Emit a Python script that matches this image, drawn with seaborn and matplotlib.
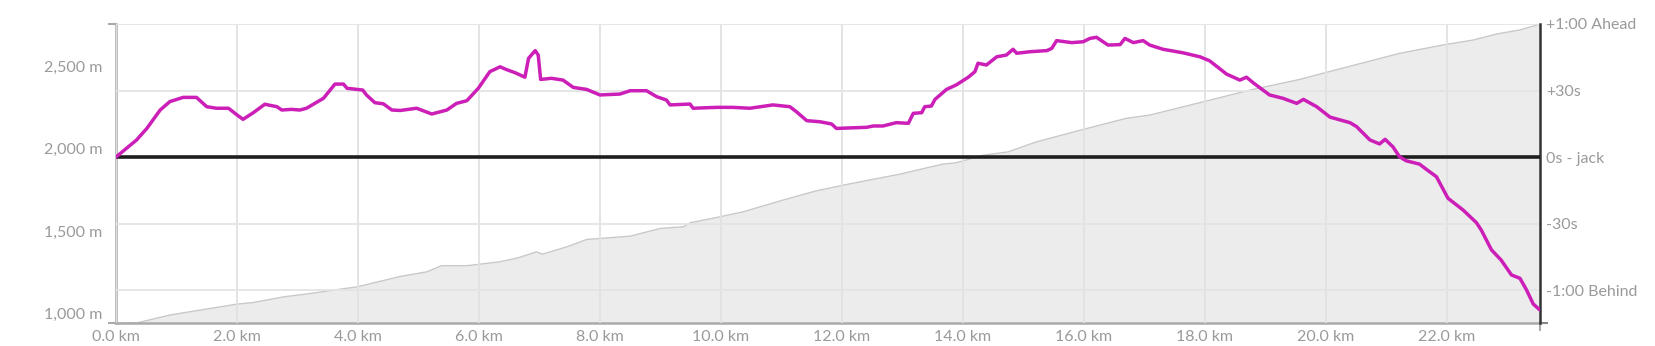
import matplotlib
matplotlib.use("Agg")
import matplotlib.pyplot as plt
import seaborn as sns
import pandas as pd

# ---- data -------------------------------------------------------------
elev_km = [0, 0.34, 0.89, 1.39, 2.0, 2.27, 2.77, 3.2, 3.59, 3.99, 4.70, 5.14,
           5.38, 5.80, 6.35, 6.65, 6.95, 7.05, 7.45, 7.78, 8.50, 9.0, 9.38,
           9.49, 9.98, 10.37, 11.03, 11.58, 12.13, 12.96, 13.67, 13.89, 14.34,
           14.75, 15.22, 15.99, 16.70, 17.09, 17.97, 18.74, 19.57, 19.96,
           21.22, 21.94, 22.44, 22.82, 23.21, 23.55]
elev_m = [940, 942, 990, 1020, 1056, 1066, 1100, 1120, 1141, 1161, 1224, 1252,
          1289, 1289, 1313, 1337, 1373, 1359, 1403, 1448, 1468, 1515, 1525,
          1549, 1585, 1616, 1687, 1743, 1785, 1844, 1905, 1913, 1959, 1979,
          2040, 2115, 2182, 2202, 2282, 2353, 2418, 2456, 2576, 2627, 2657,
          2693, 2718, 2754]

gap_km = [0, 0.34, 0.51, 0.73, 0.89, 1.11, 1.33, 1.50, 1.66, 1.86, 2.0, 2.10,
          2.27, 2.46, 2.66, 2.74, 2.90, 3.04, 3.15, 3.43, 3.62, 3.76, 3.82,
          4.08, 4.14, 4.28, 4.42, 4.56, 4.70, 4.97, 5.22, 5.47, 5.63, 5.80,
          5.99, 6.18, 6.35, 6.45, 6.60, 6.76, 6.82, 6.93, 6.98, 7.02, 7.20,
          7.39, 7.56, 7.78, 8.0, 8.33, 8.50, 8.77, 8.94, 9.10, 9.16, 9.49,
          9.54, 9.93, 10.20, 10.48, 10.86, 11.14, 11.25, 11.42, 11.64, 11.83,
          11.91, 12.41, 12.52, 12.68, 12.90, 13.10, 13.18, 13.32, 13.37, 13.48,
          13.54, 13.73, 13.89, 14.09, 14.20, 14.25, 14.39, 14.56, 14.72, 14.83,
          14.89, 15.11, 15.39, 15.47, 15.55, 15.80, 15.99, 16.10, 16.21, 16.40,
          16.60, 16.68, 16.82, 16.98, 17.09, 17.31, 17.64, 17.92, 18.08, 18.36,
          18.58, 18.69, 18.80, 19.07, 19.29, 19.52, 19.63, 19.85, 20.07, 20.40,
          20.51, 20.73, 20.89, 20.98, 21.11, 21.22, 21.33, 21.55, 21.66, 21.83,
          22.02, 22.27, 22.49, 22.57, 22.74, 22.90, 23.07, 23.21, 23.32, 23.43,
          23.54]
gap_s = [0, 7.7, 12.9, 21.2, 25, 26.9, 26.9, 22.7, 22, 22, 19, 17,
         20, 23.8, 22.7, 21.2, 21.5, 21.2, 22, 26.5, 32.9, 32.9, 31,
         30.2, 28, 24.5, 24, 21.2, 21, 22, 19.4, 21.2, 24.2, 25.4,
         31, 38.5, 40.7, 39.5, 38, 36, 44.5, 48, 46, 35, 35.5,
         34.7, 31.4, 30.5, 28, 28.4, 29.9, 29.9, 27.2, 25.7, 23.5, 23.9,
         22, 22.4, 22.4, 22, 23.5, 22.7, 20.4, 16.4, 15.9, 14.9,
         12.9, 13.4, 14, 14, 15.5, 15.2, 19.7, 20, 22.7, 23,
         26, 30.5, 32.5, 36, 38.5, 42.3, 41.5, 45.2, 46, 48.6,
         46.8, 47.5, 48, 49, 52.5, 51.6, 52, 53.5, 54, 50.5,
         50.7, 53.5, 51.6, 52.5, 50.5, 48.6, 47, 45.2, 43.4, 37.4,
         34.7, 36, 33.5, 28, 26.5, 24.2, 26, 22.7, 18, 15.5,
         13.7, 7.7, 5.9, 8, 4.6, 0.1, -1.7, -3.2, -5.5, -8.9,
         -18.6, -23.9, -29.6, -32.9, -41.9, -46.5, -53.2, -54.7, -60, -66.3,
         -69]

x_ticks = [0, 2, 4, 6, 8, 10, 12, 14, 16, 18, 20, 22]
elev_ticks = [1000, 1500, 2000, 2500]
gap_ticks = [60, 30, 0, -30, -60]
gap_labels = ["+1:00 Ahead", "+30s", "0s - jack", "-30s", "-1:00 Behind"]

# ---- style ------------------------------------------------------------
sns.set_theme(style="white")
plt.rcParams["font.family"] = ["Lato", "DejaVu Sans"]
label_color = "#9a9a9a"
grid_color = "#e4e4e4"

fig = plt.figure(figsize=(16.56, 3.46), dpi=100)
ax = fig.add_axes([116 / 1656, 1 - 323.3 / 346, (1540.5 - 116) / 1656, (323.3 - 24) / 346])
ax2 = ax.twinx()

x_max = max(elev_km)
y_lo, y_hi = min(elev_m), max(elev_m)

# elevation area (left axis)
elev_df = pd.DataFrame({"km": elev_km, "elev": elev_m})
ax.fill_between(elev_df["km"], elev_df["elev"], y_lo, color="#ececec", zorder=1, linewidth=0)
sns.lineplot(data=elev_df, x="km", y="elev", ax=ax, color="#c8c8c8", linewidth=1.0, zorder=2)
ax.set_xlim(0, x_max)
ax.set_ylim(y_lo, y_hi)
ax.set_axisbelow(False)
ax.grid(True, axis="x", color="#e2e2e2", linewidth=1.3)
ax.grid(False, axis="y")

# time gap line (right axis)
gap_df = pd.DataFrame({"km": gap_km, "gap": gap_s})
ax2.set_ylim(-75, 60)
ax2.grid(True, axis="y", color=grid_color, linewidth=1.3)
ax2.set_axisbelow(True)
ax2.axhline(0, color="#1e1e1e", linewidth=2.6, zorder=3)
sns.lineplot(data=gap_df, x="km", y="gap", ax=ax2, color="#cc1fb8", linewidth=2.5, zorder=4)
ax2.set_xlim(0, x_max)

# ---- axes decoration --------------------------------------------------
ax.set_xticks(x_ticks)
ax.set_xticklabels([f"{v:.1f} km" for v in x_ticks])
ax.set_yticks(elev_ticks)
ax.set_yticklabels([f"{v:,} m" for v in elev_ticks])
ax2.set_yticks(gap_ticks)
ax2.set_yticklabels(gap_labels)
for a in (ax, ax2):
    a.set_xlabel("")
    a.set_ylabel("")

ax.tick_params(axis="y", which="major", length=0, pad=10, labelsize=11.5, labelcolor=label_color)
ax.tick_params(axis="x", which="major", length=0, pad=5, labelsize=11.5, labelcolor=label_color)
ax2.tick_params(axis="y", which="major", length=0, pad=4, labelsize=11.5, labelcolor=label_color)

# outer (end) ticks
ax.set_yticks([y_lo, y_hi], minor=True)
ax.set_xticks([0, x_max], minor=True)
ax.tick_params(axis="y", which="minor", length=6, width=1.5, color="#aaaaaa", left=True)
ax.tick_params(axis="x", which="minor", length=6, width=1.5, color="#aaaaaa", bottom=True)
ax2.set_yticks([-75, 60], minor=True)
ax2.tick_params(axis="y", which="minor", length=6, width=1.5, color="#888888", right=True)

ax.spines["top"].set_visible(False)
ax2.spines["top"].set_visible(False)
ax.spines["right"].set_visible(False)
ax2.spines["left"].set_visible(False)
ax2.spines["bottom"].set_visible(False)
ax.spines["left"].set_color("#aaaaaa")
ax.spines["left"].set_linewidth(1.8)
ax.spines["bottom"].set_color("#aaaaaa")
ax.spines["bottom"].set_linewidth(1.8)
ax2.spines["right"].set_color("#333333")
ax2.spines["right"].set_linewidth(1.8)

fig.savefig("out.png", dpi=100, facecolor="white")
